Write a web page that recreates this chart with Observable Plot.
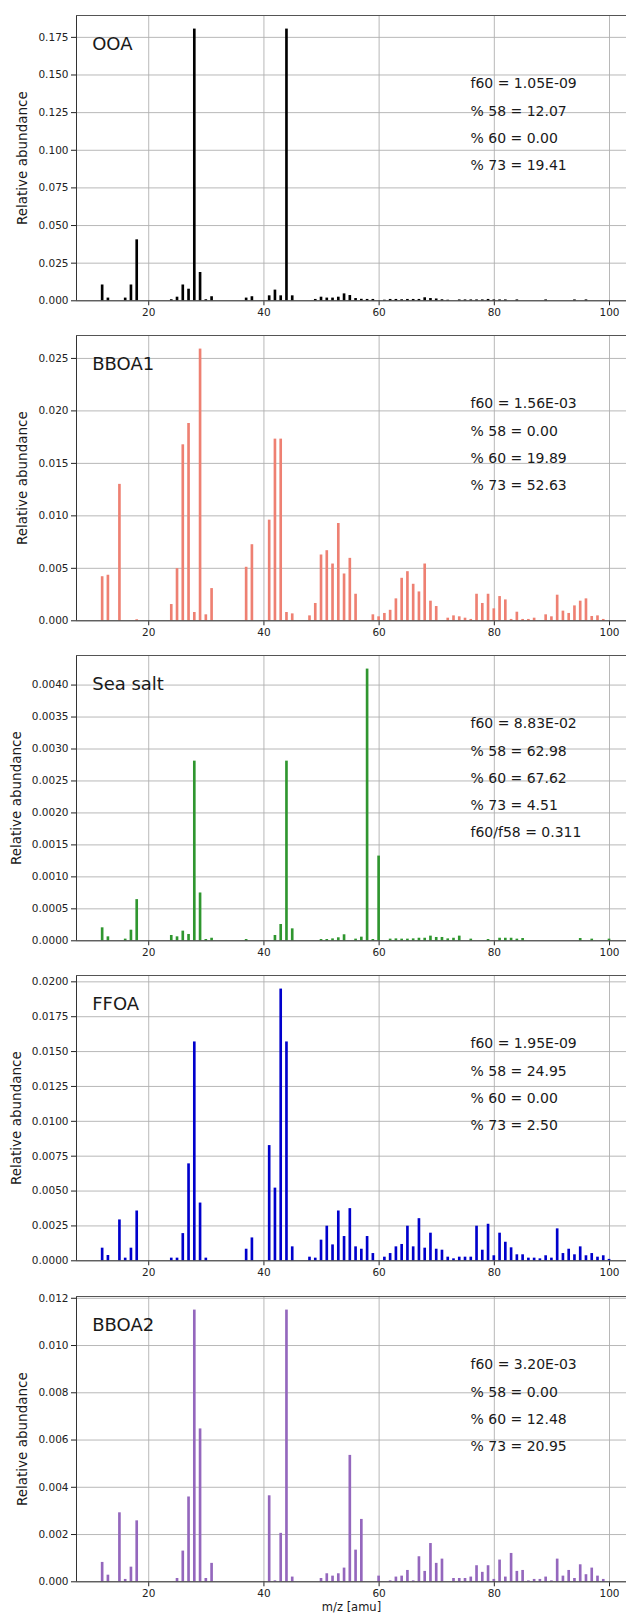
<!DOCTYPE html>
<html><head><meta charset="utf-8">
<script src="https://cdn.jsdelivr.net/npm/d3@7"></script>
<script src="https://cdn.jsdelivr.net/npm/@observablehq/plot@0.6"></script>
<style>
body{margin:0;background:#fff;}
#chart svg{display:block;}
</style></head><body><div id="chart"></div>
<script>
// ---- OOA ----
const mzOOA = [12,13,16,17,18,24,25,26,27,28,29,30,31,37,38,41,42,43,44,45,49,50,51,52,53,54,55,56,57,58,59,61,62,63,64,65,66,67,68,69,70,71,72,74,75,76,77,78,79,80,81,82,84,89,94,96];
const valOOA = [0.0105,0.0018,0.0018,0.0105,0.0405,0.0007,0.0024,0.0105,0.0077,0.1805,0.0188,0.0007,0.0027,0.0018,0.0027,0.0033,0.0071,0.0033,0.1805,0.0033,0.0009,0.0024,0.0018,0.0018,0.0024,0.0046,0.0035,0.0015,0.0010,0.0009,0.0009,0.0004,0.0009,0.0009,0.0007,0.0009,0.0009,0.0009,0.0020,0.0015,0.0012,0.0007,0.0004,0.0006,0.0006,0.0006,0.0006,0.0006,0.0009,0.0006,0.0006,0.0006,0.0006,0.0006,0.0006,0.0006];
const notesOOA = ["f60 = 1.05E-09","% 58 = 12.07","% 60 = 0.00","% 73 = 19.41"];
const ticksOOA = [0,0.025,0.05,0.075,0.1,0.125,0.15,0.175];

// ---- BBOA1 ----
const mzBBOA1 = [12,13,15,18,24,25,26,27,28,29,30,31,37,38,41,42,43,44,45,48,49,50,51,52,53,54,55,56,59,60,61,62,63,64,65,66,67,68,69,70,72,73,74,75,76,77,78,79,80,81,82,83,84,85,86,87,89,90,91,92,93,94,95,96,97,98,99];
const valBBOA1 = [0.0042,0.00434,0.0130,0.0001,0.00155,0.00497,0.01677,0.0188,0.00079,0.02589,0.00057,0.00307,0.0051,0.00725,0.00959,0.01731,0.01731,0.00079,0.00066,0.00047,0.00165,0.00627,0.00668,0.00541,0.00927,0.00446,0.00595,0.00253,0.00057,0.00038,0.0007,0.001,0.00209,0.00405,0.00468,0.00348,0.00275,0.00541,0.00187,0.00136,0.00025,0.00047,0.00038,0.00025,0.00013,0.00253,0.00165,0.00253,0.00114,0.00231,0.00199,0.00013,0.00082,0.00013,0.00013,0.00025,0.00057,0.00038,0.00244,0.00092,0.0007,0.00142,0.00187,0.00209,0.00041,0.00047,0.00013];
const notesBBOA1 = ["f60 = 1.56E-03","% 58 = 0.00","% 60 = 19.89","% 73 = 52.63"];
const ticksBBOA1 = [0,0.005,0.01,0.015,0.02,0.025];

// ---- Sea salt ----
const mzSea = [12,13,16,17,18,24,25,26,27,28,29,30,31,37,42,43,44,45,50,51,52,53,54,56,57,58,59,60,62,63,64,65,66,67,68,69,70,71,72,73,74,76,79,81,82,83,84,85,95,97,100];
const valSea = [0.000203,0.000062,0.000026,0.000166,0.000644,0.000083,0.000062,0.000151,0.000099,0.00281,0.000748,0.00002,0.00004,0.00002,0.000083,0.000255,0.00281,0.000187,0.00002,0.00002,0.00003,0.000047,0.000094,0.000026,0.000057,0.00425,0.00002,0.001325,0.000026,0.00003,0.000026,0.000026,0.00003,0.00004,0.00004,0.000073,0.000052,0.000052,0.00003,0.00004,0.000073,0.000026,0.00002,0.00004,0.00004,0.00004,0.000026,0.000036,0.000036,0.000026,0.000026];
const notesSea = ["f60 = 8.83E-02","% 58 = 62.98","% 60 = 67.62","% 73 = 4.51","f60/f58 = 0.311"];
const ticksSea = [0,0.0005,0.001,0.0015,0.002,0.0025,0.003,0.0035,0.004];

// ---- FFOA ----
const mzFFOA = [12,13,15,16,17,18,24,25,26,27,28,29,30,37,38,41,42,43,44,45,48,49,50,51,52,53,54,55,56,57,58,59,61,62,63,64,65,66,67,68,69,70,71,72,73,74,75,76,77,78,79,80,81,82,83,84,85,86,87,88,89,90,91,92,93,94,95,96,97,98,99,100];
const valFFOA = [0.000905,0.00038,0.00293,0.00019,0.000905,0.00357,0.00019,0.00019,0.00195,0.00695,0.01569,0.00414,0.00019,0.00083,0.00164,0.00826,0.00521,0.01948,0.01569,0.001,0.00026,0.00019,0.00148,0.00248,0.00114,0.00357,0.00174,0.00374,0.001,0.00083,0.00174,0.00052,0.00026,0.00052,0.001,0.00117,0.00248,0.001,0.00302,0.000905,0.00198,0.00083,0.00076,0.00026,0.00014,0.00026,0.00026,0.00026,0.00248,0.00076,0.00262,0.00036,0.00198,0.00133,0.00093,0.00043,0.00043,0.00019,0.00019,0.00014,0.00036,0.00019,0.00229,0.00052,0.00083,0.00043,0.001,0.00036,0.00052,0.00026,0.00036,0.0001];
const notesFFOA = ["f60 = 1.95E-09","% 58 = 24.95","% 60 = 0.00","% 73 = 2.50"];
const ticksFFOA = [0,0.0025,0.005,0.0075,0.01,0.0125,0.015,0.0175,0.02];

// ---- BBOA2 ----
const mzBBOA2 = [12,13,15,16,17,18,25,26,27,28,29,30,31,41,42,43,44,45,50,51,52,53,54,55,56,57,60,62,63,64,65,66,67,68,69,70,71,73,74,75,76,77,78,79,80,81,82,83,84,85,86,87,88,89,90,91,92,93,94,95,96,97,98,99];
const valBBOA2 = [0.00082,0.00028,0.00292,0.0001,0.00062,0.00258,0.00014,0.0013,0.00359,0.0115,0.00647,0.00014,0.00078,0.00364,0.00004,0.00205,0.0115,0.0002,0.00014,0.00034,0.00024,0.00034,0.00058,0.00535,0.00134,0.00264,0.00024,0.00004,0.0002,0.00024,0.00048,0.00004,0.00106,0.00044,0.00162,0.00078,0.00096,0.00014,0.00014,0.00014,0.0002,0.00068,0.0004,0.00068,0.0001,0.00092,0.0002,0.0012,0.00044,0.00048,0.00004,0.0001,0.0001,0.0002,0.00004,0.00096,0.00024,0.00048,0.00014,0.00072,0.0003,0.00058,0.00024,0.0001];
const notesBBOA2 = ["f60 = 3.20E-03","% 58 = 0.00","% 60 = 12.48","% 73 = 20.95"];
const ticksBBOA2 = [0,0.002,0.004,0.006,0.008,0.01,0.012];

const xTicks = [20,40,60,80,100];
const xDomain = [7.46, 102.95];

const panels = [
  {name:"OOA", mz:mzOOA, val:valOOA, notes:notesOOA, ticks:ticksOOA, fmt:".3f", color:"#000000", labelX:21.7},
  {name:"BBOA1", mz:mzBBOA1, val:valBBOA1, notes:notesBBOA1, ticks:ticksBBOA1, fmt:".3f", color:"#ee8072", labelX:21.7},
  {name:"Sea salt", mz:mzSea, val:valSea, notes:notesSea, ticks:ticksSea, fmt:".4f", color:"#2f962f", labelX:16},
  {name:"FFOA", mz:mzFFOA, val:valFFOA, notes:notesFFOA, ticks:ticksFFOA, fmt:".4f", color:"#0000cc", labelX:16},
  {name:"BBOA2", mz:mzBBOA2, val:valBBOA2, notes:notesBBOA2, ticks:ticksBBOA2, fmt:".3f", color:"#9467bd", labelX:21.7}
];

const W = 626, ML = 76;
const chart = document.getElementById("chart");
panels.forEach((p, i) => {
  const last = i === panels.length - 1;
  const data = p.mz.map((m, j) => ({mz: m, v: p.val[j]}));
  const ymax = d3.max(p.val) * 1.05;
  const mt = last ? 16 : 15;
  const plotH = 285.3;
  const H = last ? 336 : 320;
  const mb = H - mt - plotH;
  const marks = [
    Plot.ruleX(xTicks, {stroke:"#b0b0b0", strokeWidth:0.9}),
    Plot.ruleY(p.ticks, {stroke:"#b0b0b0", strokeWidth:0.9}),
    Plot.rectY(data, {x1: d => d.mz - 0.23, x2: d => d.mz + 0.23, y: "v", fill: p.color}),
    Plot.ruleX([xDomain[0]], {stroke:"#333", strokeWidth:1}),
    Plot.ruleY([0], {stroke:"#333", strokeWidth:1}),
    Plot.ruleY([ymax], {stroke:"#555", strokeWidth:1}),
    Plot.text([p.name], {frameAnchor:"top-left", dx:15.7, dy:21.3, textAnchor:"start", fontSize:18, fill:"#1a1a1a"}),
    Plot.text(["Relative abundance"], {frameAnchor:"left", rotate:-90, dx: p.labelX - ML, textAnchor:"middle", fontSize:13.5, fill:"#1a1a1a"}),
    ...p.notes.map((t, k) => Plot.text([t], {frameAnchor:"top-left", dx:394, dy:63 + 27.2*k, textAnchor:"start", fontSize:14, fill:"#1a1a1a"}))
  ];
  if (last) marks.push(Plot.text(["m/z [amu]"], {frameAnchor:"bottom", dy:29, fontSize:11.5, fill:"#1a1a1a"}));
  const svg = Plot.plot({
    width: W, height: H,
    marginLeft: ML, marginRight: 0, marginTop: mt, marginBottom: mb,
    style: {fontFamily: "'DejaVu Sans', sans-serif", fontSize: "10.5px", color: "#222", background: "#fff", overflow: "visible"},
    x: {domain: xDomain, ticks: xTicks, tickSize: 5, tickPadding: 3, tickFormat: d => String(d), label: null},
    y: {domain: [0, ymax], ticks: p.ticks, tickSize: 5, tickPadding: 3, tickFormat: d3.format(p.fmt), label: null},
    marks
  });
  chart.appendChild(svg);
});
</script>
</body></html>
